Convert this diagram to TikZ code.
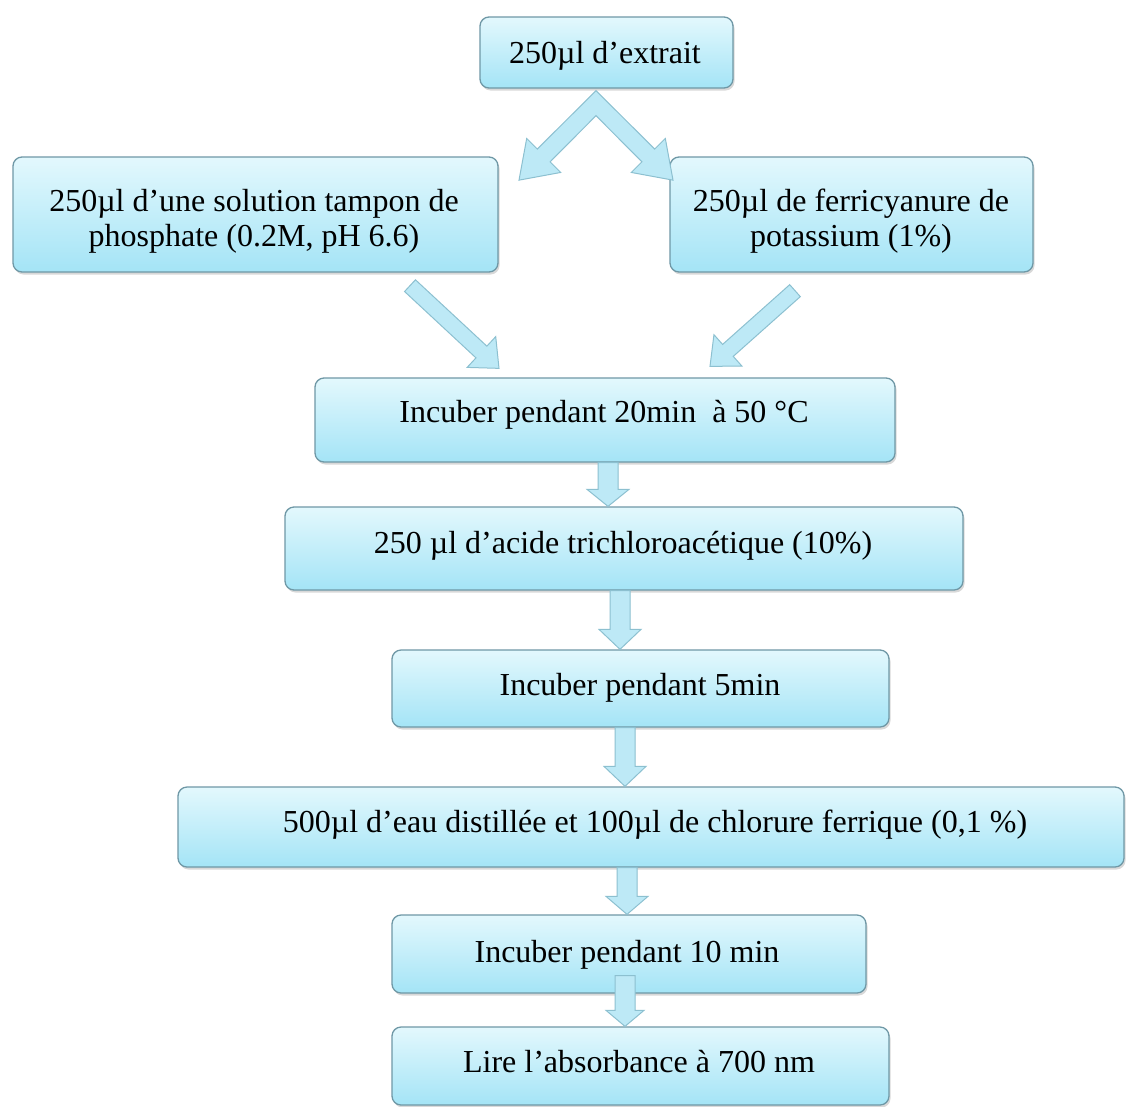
\documentclass[tikz,border=0pt]{standalone}
\usepackage{fontspec}
\setmainfont{Liberation Serif}
\usetikzlibrary{calc,shadows}
\definecolor{boxtop}{HTML}{E3F8FD}
\definecolor{boxbot}{HTML}{A4E4F6}
\definecolor{boxline}{HTML}{6F98A6}
\definecolor{arrfill}{HTML}{BDE9F6}
\definecolor{arrline}{HTML}{8CC0D0}
\tikzset{
  stepbox/.style={rounded corners=9pt, draw=boxline, line width=1.3pt,
    top color=boxtop, bottom color=boxbot,
    drop shadow={shadow xshift=1.5pt, shadow yshift=-2.5pt, opacity=0.3},
    inner sep=0pt},
  txt/.style={font=\fontsize{32}{35}\selectfont, inner sep=0pt, anchor=base, align=center},
  fatarrow/.style={fill=arrfill, draw=arrline, line width=1pt, line join=miter},
}
% #2 start, #3 end, #4 shaft half width, #5 head half width, #6 head length
\newcommand\blockarrow[6][]{%
  \coordinate (BAs) at #2;
  \coordinate (BAe) at #3;
  \coordinate (BAh) at ($(BAe)!#6!(BAs)$);
  \filldraw[fatarrow,#1] ($(BAs)!#4!90:(BAe)$) -- ($(BAh)!#4!90:(BAe)$) --
    ($(BAh)!#5!90:(BAe)$) -- (BAe) -- ($(BAh)!#5!-90:(BAe)$) --
    ($(BAh)!#4!-90:(BAe)$) -- ($(BAs)!#4!-90:(BAe)$) -- cycle;}
\begin{document}
\begin{tikzpicture}[x=1pt,y=-1pt]
\fill[white] (0,0) rectangle (1126,1106);
\useasboundingbox (0,0) rectangle (1126,1106);

% boxes
\node[stepbox, minimum width=253pt, minimum height=71pt] (b1) at (606.5,52.5) {};
\node[stepbox, minimum width=485pt, minimum height=115pt] (b2) at (255.5,214.5) {};
\node[stepbox, minimum width=363pt, minimum height=115pt] (b3) at (851.5,214.5) {};
\node[stepbox, minimum width=580pt, minimum height=84pt] (b4) at (605,420) {};
\node[stepbox, minimum width=678pt, minimum height=83pt] (b5) at (624,548.5) {};
\node[stepbox, minimum width=497pt, minimum height=77pt] (b6) at (640.5,688.5) {};
\node[stepbox, minimum width=946pt, minimum height=80pt] (b7) at (651,827) {};
\node[stepbox, minimum width=474pt, minimum height=78pt] (b8) at (629,954) {};
\node[stepbox, minimum width=497pt, minimum height=78pt] (b9) at (640.5,1066) {};

% texts
\node[txt] (t1) at (605,63) {250µl d’extrait};
\node[txt, anchor=north] (t2) at (254,189) {250µl d’une solution tampon de\\phosphate (0.2M, pH 6.6)};
\node[txt, anchor=north] (t3) at (851,189) {250µl de ferricyanure de\\potassium (1\%)};
\node[txt] (t4) at (604,422) {Incuber pendant 20min\ \ à 50 °C};
\node[txt] (t5) at (623,553) {250 µl d’acide trichloroacétique (10\%)};
\node[txt] (t6) at (640,695) {Incuber pendant 5min};
\node[txt] (t7) at (655,832) {500µl d’eau distillée et 100µl de chlorure ferrique (0,1 \%)};
\node[txt] (t8) at (627,962) {Incuber pendant 10 min};
\node[txt] (t9) at (639,1072) {Lire l’absorbance à 700 nm};

% split arrow under the first box
\coordinate (vapex) at ($(b1.south)+(-10.5,2)$);
\filldraw[fatarrow, shift={(vapex)}] (0,0) -- (-58.7,58.4) -- (-69.3,47.8) -- (-77,89.5)
  -- (-35.3,81.8) -- (-45.9,71.2) -- (0,25) -- (45.9,71.2) -- (35.3,81.8)
  -- (77,89.5) -- (69.3,47.8) -- (58.7,58.4) -- cycle;

% diagonal arrows
\blockarrow{($(b2.south)+(154.5,13)$)}{($(b4.north)+(-106,-9)$)}{8pt}{21pt}{24pt}
\blockarrow{($(b3.south)+(-56.5,18)$)}{($(b4.north)+(105,-11)$)}{8pt}{21pt}{24pt}

% vertical arrows
\blockarrow{($(b4.south)+(3,0)$)}{($(b5.north)+(-16,0)$)}{10pt}{21pt}{17pt}
\blockarrow{($(b5.south)+(-4,0)$)}{($(b6.north)+(-20.5,0)$)}{10pt}{21pt}{20pt}
\blockarrow{($(b6.south)+(-15.5,0)$)}{($(b7.north)+(-26,0)$)}{10pt}{21pt}{20pt}
\blockarrow{($(b7.south)+(-24,0)$)}{($(b8.north)+(-2,0)$)}{10pt}{21pt}{18pt}
\blockarrow{($(b8.south)+(-4,-18)$)}{($(b9.north)+(-15.5,0)$)}{10pt}{19pt}{16pt}
\end{tikzpicture}
\end{document}
